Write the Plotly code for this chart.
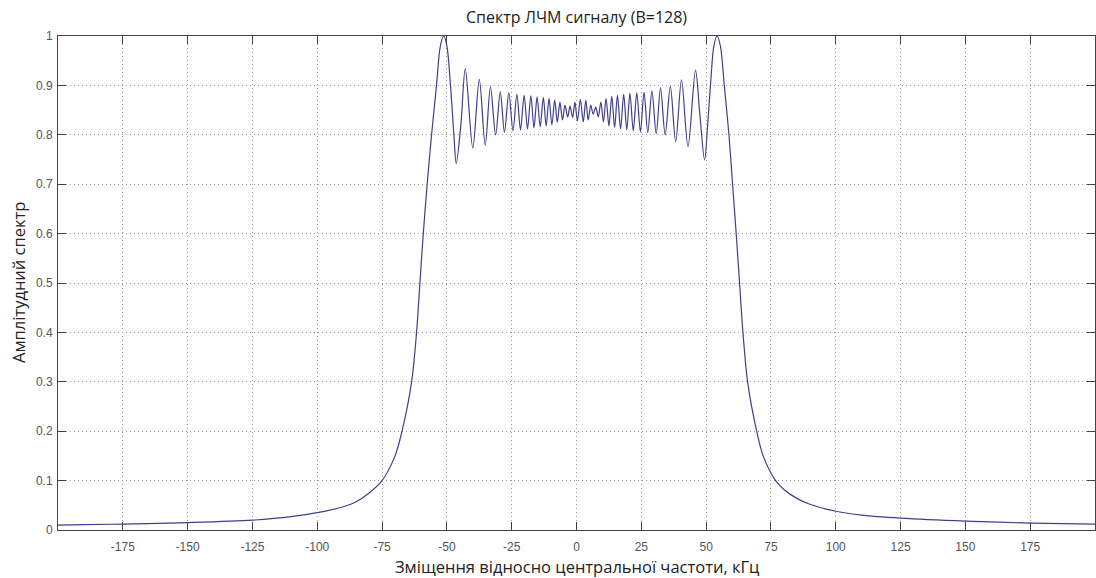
import plotly.graph_objects as go

# Frequency offset (kHz) and amplitude
freq_khz = [
    -200, -190, -175, -150, -125, -110, -100, -90, -85, -80, -75, -70, -67.3, -63.6,
    -61.7, -60.4, -59.1, -57.6, -55.9, -54.0, -52.5, -51.2, -50.0, -48.6, -47.3,
    -46.4, -44.6, -42.9, -40.0, -37.5, -35.2, -33.2, -31.2, -29.4, -27.8, -26.1,
    -24.5, -23.0, -21.6, -20.2, -18.9, -17.6, -16.4, -15.2, -14.0, -12.8, -11.7,
    -10.6, -9.5, -8.4, -7.4, -6.4, -5.4, -4.45, -3.4, -2.5, -1.5, -0.6, 0.35, 1.5,
    2.6, 3.6, 4.5, 5.5, 6.4, 7.45, 8.4, 9.4, 10.4, 11.4, 12.5, 13.6, 14.7, 15.8,
    17.0, 18.2, 19.4, 20.6, 21.9, 23.25, 24.65, 26.05, 27.5, 29.1, 30.75, 32.4,
    34.2, 36.2, 38.25, 40.5, 43.0, 45.9, 47.6, 49.4, 50.6, 51.8, 53.0, 54.2, 55.5,
    57.0, 58.8, 60.2, 61.6, 62.9, 64.2, 66.0, 69.5, 72.0, 76.8, 80, 85, 90, 100,
    110, 125, 150, 175, 200,
]
amplitude = [
    0.010, 0.011, 0.012, 0.015, 0.020, 0.027, 0.035, 0.047, 0.057, 0.075, 0.100, 0.150, 0.200, 0.300,
    0.400, 0.500, 0.600, 0.700, 0.800, 0.900, 0.980, 1.000, 0.980, 0.900, 0.800,
    0.742, 0.820, 0.934, 0.773, 0.912, 0.779, 0.897, 0.800, 0.887, 0.805, 0.885,
    0.808, 0.882, 0.810, 0.880, 0.812, 0.879, 0.814, 0.877, 0.816, 0.876, 0.818,
    0.874, 0.820, 0.870, 0.825, 0.866, 0.830, 0.860, 0.836, 0.858, 0.835, 0.866, 0.828, 0.872,
    0.826, 0.870, 0.830, 0.860, 0.842, 0.856, 0.836, 0.866, 0.826, 0.874, 0.818, 0.878, 0.815, 0.880,
    0.812, 0.882, 0.810, 0.884, 0.808, 0.885, 0.806, 0.886, 0.805, 0.889, 0.802, 0.895,
    0.800, 0.898, 0.786, 0.911, 0.776, 0.931, 0.840, 0.749, 0.820, 0.910, 0.980, 1.000, 0.980,
    0.900, 0.800, 0.700, 0.600, 0.500, 0.400, 0.300, 0.200, 0.150, 0.100, 0.082, 0.064, 0.052, 0.038,
    0.030, 0.024, 0.018, 0.014, 0.012,
]

x_ticks = [-175, -150, -125, -100, -75, -50, -25, 0, 25, 50, 75, 100, 125, 150, 175]
y_ticks = [0, 0.1, 0.2, 0.3, 0.4, 0.5, 0.6, 0.7, 0.8, 0.9, 1]
y_tick_text = ["0", "0.1", "0.2", "0.3", "0.4", "0.5", "0.6", "0.7", "0.8", "0.9", "1"]

fig = go.Figure()
fig.add_trace(go.Scatter(
    x=freq_khz, y=amplitude, mode="lines",
    line=dict(color="#40408a", width=1.2, shape="spline", smoothing=0.9),
    hoverinfo="skip", showlegend=False,
))

axis_common = dict(
    showline=True, linecolor="#444444", linewidth=1, mirror="ticks",
    ticks="inside", ticklen=8, tickcolor="#444444", tickwidth=1,
    showgrid=True, gridcolor="#9a9a9a", griddash="1px,3px", gridwidth=1,
    zeroline=False,
    tickfont=dict(family="Liberation Sans, Arial, sans-serif", size=12, color="#555555"),
)

fig.update_layout(
    width=1096, height=578,
    margin=dict(l=58, r=1, t=36, b=48),
    paper_bgcolor="white", plot_bgcolor="white",
    xaxis=dict(range=[-200, 200], tickvals=x_ticks, ticktext=[str(v) for v in x_ticks],
               ticklabelstandoff=6, **axis_common),
    yaxis=dict(range=[0, 1], tickvals=y_ticks, ticktext=y_tick_text,
               ticklabelstandoff=2, **axis_common),
    annotations=[
        dict(text="Спектр ЛЧМ сигналу (B=128)", xref="paper", yref="paper",
             x=0.5, y=1.0, yshift=19, xanchor="center", yanchor="middle", showarrow=False,
             font=dict(family="Open Sans, sans-serif", size=16, color="#222222")),
        dict(text="Зміщення відносно центральної частоти, кГц", xref="paper", yref="paper",
             x=0.5, y=0, yshift=-36, xanchor="center", yanchor="middle", showarrow=False,
             font=dict(family="Open Sans, sans-serif", size=16.5, color="#222222")),
        dict(text="Амплітудний спектр", xref="paper", yref="paper", textangle=-90,
             x=0, xshift=-40, y=0.5, xanchor="center", yanchor="middle", showarrow=False,
             font=dict(family="Open Sans, sans-serif", size=16.5, color="#222222")),
    ],
)

fig.write_html("out.html")
